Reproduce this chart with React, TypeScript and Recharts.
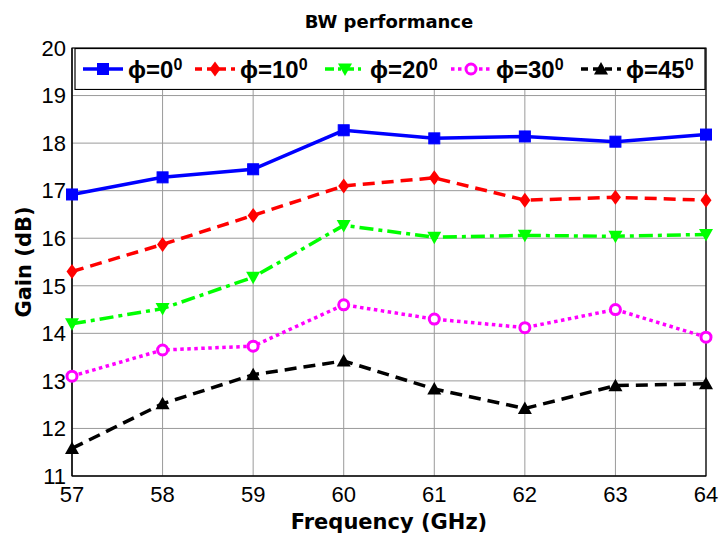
import React from "react";
import { LineChart, Line, XAxis, YAxis, CartesianGrid, Legend, ReferenceArea, Label } from "recharts";

const freqs = [57, 58, 59, 60, 61, 62, 63, 64];
const gainTicks = [11, 12, 13, 14, 15, 16, 17, 18, 19, 20];

const phi0 = [16.92, 17.28, 17.45, 18.27, 18.1, 18.14, 18.03, 18.18];
const phi10 = [15.3, 15.87, 16.48, 17.1, 17.27, 16.8, 16.86, 16.8];
const phi20 = [14.2, 14.52, 15.18, 16.27, 16.02, 16.06, 16.04, 16.08];
const phi30 = [13.1, 13.65, 13.73, 14.6, 14.3, 14.12, 14.5, 13.92];
const phi45 = [11.58, 12.52, 13.13, 13.42, 12.83, 12.42, 12.9, 12.94];

const series = [
  { key: "p0", angle: "0", color: "#0000ff", dash: undefined, legendDash: undefined, marker: "square" },
  { key: "p10", angle: "10", color: "#ff0000", dash: "12 7", legendDash: "7 5", marker: "diamond" },
  { key: "p20", angle: "20", color: "#00ff00", dash: "14 5 4 5", legendDash: "9 4 3 4", marker: "down" },
  { key: "p30", angle: "30", color: "#ff00ff", dash: "3.5 3.5", legendDash: "3.5 3.5", marker: "circle" },
  { key: "p45", angle: "45", color: "#000000", dash: "12 7", legendDash: "7 5", marker: "up" },
];

const data = freqs.map((f, i) => ({
  freq: f,
  p0: phi0[i],
  p10: phi10[i],
  p20: phi20[i],
  p30: phi30[i],
  p45: phi45[i],
}));

function Marker({ type, color, cx, cy }: { type: string; color: string; cx: number; cy: number }) {
  if (cx == null || cy == null) return null;
  switch (type) {
    case "square":
      return <rect x={cx - 5.5} y={cy - 5.5} width={11} height={11} fill={color} stroke={color} />;
    case "diamond":
      return <path d={`M${cx},${cy - 7.5}L${cx + 5.5},${cy}L${cx},${cy + 7.5}L${cx - 5.5},${cy}Z`} fill={color} />;
    case "down":
      return <path d={`M${cx - 7},${cy - 5.5}L${cx + 7},${cy - 5.5}L${cx},${cy + 7}Z`} fill={color} />;
    case "up":
      return <path d={`M${cx - 7},${cy + 5.5}L${cx + 7},${cy + 5.5}L${cx},${cy - 7}Z`} fill={color} />;
    case "circle":
      return <circle cx={cx} cy={cy} r={5} fill="#ffffff" stroke={color} strokeWidth={3} />;
    default:
      return null;
  }
}

function LegendBox() {
  const starts = [9, 121, 251, 377, 507];
  return (
    <svg width={632} height={42} style={{ display: "block" }}>
      <rect x={1} y={0.5} width={630} height={41} fill="#ffffff" stroke="#000000" strokeWidth={1.2} />
      {series.map((s, i) => {
        const x0 = starts[i];
        return (
          <g key={s.key}>
            <line x1={x0} y1={21} x2={x0 + 40} y2={21} stroke={s.color} strokeWidth={3.5} strokeDasharray={s.legendDash} />
            <Marker type={s.marker} color={s.color} cx={x0 + 20} cy={21} />
            <text x={x0 + 45} y={30} fontFamily="'Liberation Sans', Arial, sans-serif" fontWeight="bold" fontSize={24} fill="#000">
              ϕ={s.angle}
              <tspan fontSize={16} dy={-8}>0</tspan>
            </text>
          </g>
        );
      })}
    </svg>
  );
}

export default function App() {
  return (
    <div style={{ position: "absolute", left: 0, top: 0, width: 720, height: 535, background: "#ffffff" }}>
      <div
        style={{
          position: "absolute",
          left: 72,
          width: 634,
          top: 11,
          textAlign: "center",
          fontFamily: "'DejaVu Sans', Verdana, sans-serif",
          fontWeight: "bold",
          fontSize: 18,
          lineHeight: "22px",
        }}
      >
        BW performance
      </div>
      <LineChart width={720} height={535} data={data} margin={{ top: 48, right: 14, bottom: 0, left: 0 }}>
        <CartesianGrid stroke="#9a9a9a" strokeWidth={1} />
        <XAxis
          dataKey="freq"
          type="number"
          domain={[57, 64]}
          ticks={freqs}
          height={59}
          tickLine={false}
          tickSize={0}
          tickMargin={10}
          axisLine={{ stroke: "#000" }}
          tick={{ fill: "#000", fontSize: 22, fontFamily: "'Liberation Sans', Arial, sans-serif" }}
        >
          <Label
            value="Frequency (GHz)"
            position="insideBottom"
            offset={6}
            style={{ fill: "#000", fontSize: 21, fontWeight: "bold", fontFamily: "'DejaVu Sans', Verdana, sans-serif" }}
          />
        </XAxis>
        <YAxis
          type="number"
          domain={[11, 20]}
          ticks={gainTicks}
          width={72}
          tickLine={false}
          tickSize={0}
          tickMargin={6}
          axisLine={{ stroke: "#000" }}
          tick={{ fill: "#000", fontSize: 22, fontFamily: "'Liberation Sans', Arial, sans-serif" }}
        >
          <Label
            value="Gain (dB)"
            angle={-90}
            position="insideLeft"
            offset={24}
            style={{ fill: "#000", fontSize: 21, fontWeight: "bold", fontFamily: "'DejaVu Sans', Verdana, sans-serif", textAnchor: "middle" }}
          />
        </YAxis>
        <ReferenceArea x1={57} x2={64} y1={11} y2={20} fill="none" stroke="#000" strokeWidth={1.2} />
        {series.map((s) => (
          <Line
            key={s.key}
            dataKey={s.key}
            stroke={s.color}
            strokeWidth={3.5}
            strokeDasharray={s.dash}
            isAnimationActive={false}
            dot={(p: any) => <Marker key={`${s.key}-${p.index}`} type={s.marker} color={s.color} cx={p.cx} cy={p.cy} />}
            activeDot={false}
          />
        ))}
        <Legend
          layout="horizontal"
          verticalAlign="middle"
          align="center"
          wrapperStyle={{ position: "absolute", left: 74, top: 48, width: 632, height: 42 }}
          content={() => <LegendBox />}
        />
      </LineChart>
    </div>
  );
}
